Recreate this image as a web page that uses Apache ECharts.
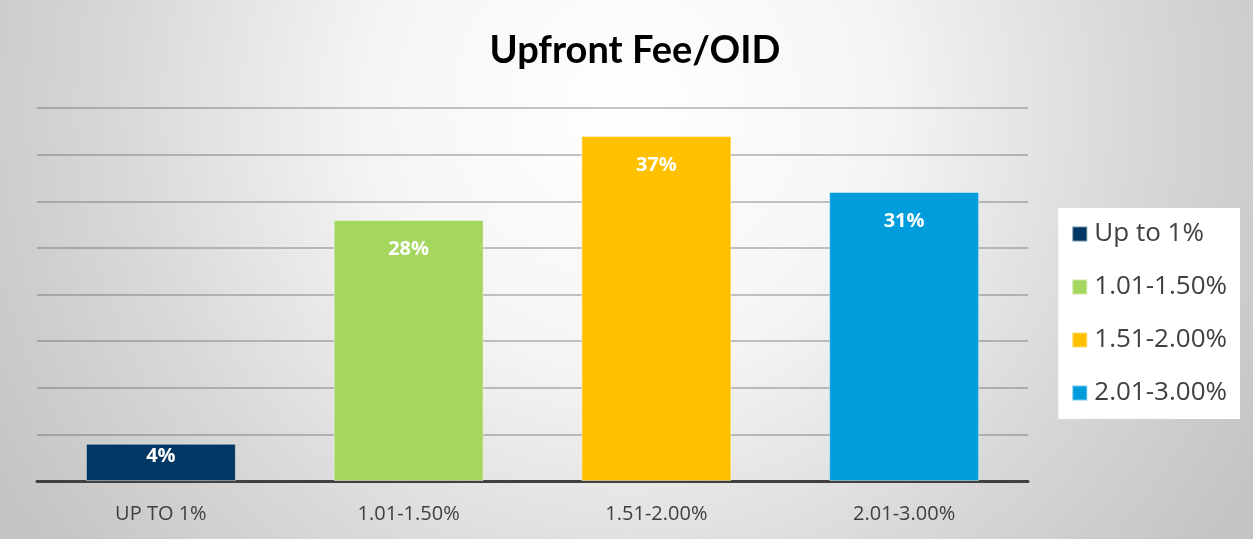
<!DOCTYPE html>
<html>
<head>
<meta charset="utf-8">
<script src="https://cdn.jsdelivr.net/npm/echarts@6/dist/echarts.min.js"></script>
<style>
  html, body { margin: 0; padding: 0; }
  #chart { width: 1253px; height: 539px; }
</style>
</head>
<body>
<div id="chart"></div>
<script>
// 数据
const categories = ['UP TO 1%', '1.01-1.50%', '1.51-2.00%', '2.01-3.00%']
const seriesNames = ['Up to 1%', '1.01-1.50%', '1.51-2.00%', '2.01-3.00%']
const values = [4, 28, 37, 31]
const colors = ['#003764', '#a5d75f', '#ffc000', '#009ddc']

const chart = echarts.init(document.getElementById('chart'))

// 每个区间一个系列，堆叠后正好落在自己的类目上
const series = seriesNames.map((name, i) => ({
  name: name,
  type: 'bar',
  stack: 'all',
  barWidth: 150,
  itemStyle: {
    color: colors[i],
    borderColor: 'rgba(255,255,255,0.45)',
    borderWidth: 1
  },
  label: {
    show: true,
    position: 'insideTop',
    // 矮柱子的标签贴近顶部
    distance: values[i] < 10 ? 3 : 19,
    color: '#fff',
    fontWeight: 'bold',
    fontSize: 20,
    fontFamily: 'Open Sans',
    formatter: '{c}%'
  },
  data: categories.map((c, j) => (j === i ? values[i] : null))
}))

const option = {
  backgroundColor: new echarts.graphic.RadialGradient(0.5, 0.2, 1.35, [
    { offset: 0, color: '#ffffff' },
    { offset: 0.35, color: '#f5f5f5' },
    { offset: 0.7, color: '#d8d8d8' },
    { offset: 1, color: '#c4c4c4' }
  ]),
  color: colors,
  title: {
    text: 'Upfront Fee/OID',
    left: 630,
    textAlign: 'center',
    top: 27,
    textStyle: {
      fontFamily: 'Lato',
      fontWeight: 'bold',
      fontSize: 38,
      color: '#000'
    }
  },
  legend: {
    orient: 'vertical',
    right: 13,
    top: 208,
    padding: [13, 13, 13, 13],
    backgroundColor: '#fff',
    itemGap: 27,
    itemWidth: 15,
    itemHeight: 15,
    icon: 'rect',
    textStyle: {
      fontFamily: 'Open Sans',
      fontSize: 26,
      color: '#404040',
      padding: [0, 0, 0, 2]
    },
    data: seriesNames
  },
  grid: {
    left: 37,
    right: 225,
    top: 108,
    bottom: 58
  },
  xAxis: {
    type: 'category',
    data: categories,
    axisLine: {
      lineStyle: { color: '#404040', width: 3 }
    },
    axisTick: { show: false },
    axisLabel: {
      margin: 23,
      fontSize: 20,
      fontFamily: 'Open Sans',
      color: '#404040'
    }
  },
  yAxis: {
    type: 'value',
    min: 0,
    max: 40,
    interval: 5,
    axisLabel: { show: false },
    axisLine: { show: false },
    axisTick: { show: false },
    splitLine: {
      lineStyle: { color: 'rgba(90,90,90,0.35)', width: 2 }
    }
  },
  series: series
}

chart.setOption(option)
</script>
</body>
</html>
